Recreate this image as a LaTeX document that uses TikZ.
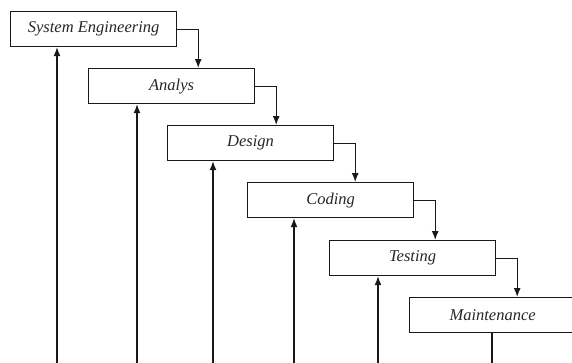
\documentclass[tikz,border=0pt]{standalone}
\usepackage{fontspec}
\setmainfont{Liberation Serif}
\usetikzlibrary{calc,arrows.meta}
\begin{document}
\begin{tikzpicture}[x=1pt,y=-1pt,
  stagebox/.style={draw=black!90, line width=1.2pt, minimum width=166pt, minimum height=35pt,
    inner sep=0pt, anchor=north west, font=\fontsize{16.5}{19}\selectfont\itshape, text=black!85},
  arr/.style={draw=black!90, line width=1.2pt, -{Latex[length=9pt,width=7pt]}},
  ln/.style={draw=black!90, line width=1.2pt}]
\useasboundingbox (0,0) rectangle (572,362);
\clip (0,0) rectangle (572,362);
\coordinate (bottom) at (0,364);
\node[stagebox] (b1) at (10,11) {System Engineering};
\node[stagebox] (b2) at (88,68) {Analys};
\node[stagebox] (b3) at (167,125) {Design};
\node[stagebox] (b4) at (247,182) {Coding};
\node[stagebox] (b5) at (329,240) {Testing};
\node[stagebox] (b6) at (409,297) {Maintenance};
\foreach \i/\j in {1/2,2/3,3/4,4/5,5/6}{
  \coordinate (k\i) at ($(b\i.east)+(21,0)$);
  \draw[arr] (b\i.east) -| (k\i |- b\j.north);
}
\foreach \i/\d in {1/47,2/49,3/46,4/47,5/49}{
  \coordinate (f\i) at ($(b\i.south west)+(\d,0)$);
  \draw[arr] (f\i |- bottom) -- (f\i);
}
\coordinate (m6) at ($(b6.south west)+(83,0)$);
\draw[ln] (m6) -- (m6 |- bottom);
\end{tikzpicture}
\end{document}
